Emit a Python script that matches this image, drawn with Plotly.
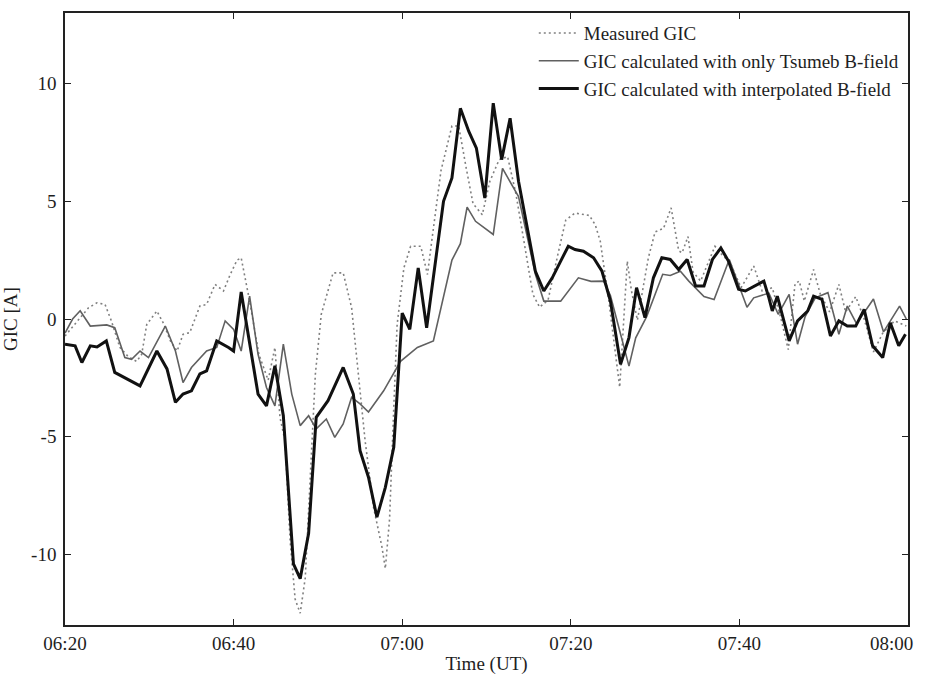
import plotly.graph_objects as go

# time in minutes after 06:20 UT
t_meas = [0, 1.5, 2.8, 3.8, 4.75, 5.5, 6.5, 7.5, 8.5, 9.1, 9.7, 10.9, 11.7, 12.5, 13.3, 14.0, 14.8,
          16.0, 16.8, 17.8, 18.8, 19.6, 20.4, 20.9, 21.9, 23.0, 24.1, 24.9, 25.5, 26.1, 26.7, 27.3,
          27.9, 28.5, 28.9, 29.7, 30.4, 31.8, 33.0, 34.0, 34.8, 35.6, 36.6, 37.6, 38.0, 38.5, 39.0,
          39.4, 40.2, 41.0, 42.2, 43.0, 43.5, 44.6, 45.9, 46.7, 47.6, 48.4, 49.5, 50.4, 51.5, 52.5,
          53.5, 54.6, 55.5, 56.3, 57.3, 58.5, 59.4, 60.5, 62.2, 62.9, 63.5, 64.5, 65.3, 65.8, 66.7,
          67.2, 67.9, 69.2, 70.0, 71.0, 71.9, 72.8, 73.2, 73.9, 74.5, 75.4, 77.1, 77.9, 78.9, 80.2,
          81.7, 82.7, 83.9, 84.9, 85.8, 86.6, 87.1, 87.7, 88.8, 89.6, 90.7, 91.8, 92.6, 93.8, 94.8,
          95.9, 97.0, 98.4, 99.8]
gic_meas = [-0.72, -0.1, 0.48, 0.69, 0.62, -0.08, -1.2, -1.6, -1.8, -1.5, -0.23, 0.34, -0.2, -0.93,
            -1.36, -0.65, -0.58, 0.55, 0.62, 1.47, 1.19, 1.89, 2.5, 2.6, 0.76, -1.5, -2.6, -1.21,
            -4.18, -5.17, -9.4, -11.9, -12.5, -11.0, -8.0, -2.34, 0.2, 1.96, 1.96, 0.48, -2.34,
            -5.17, -8.0, -9.69, -10.6, -8.5, -3.76, -0.23, 2.17, 3.09, 3.09, 1.89, 3.3, 6.3, 8.2,
            8.2, 6.4, 4.9, 4.43, 5.85, 6.77, 6.9, 5.3, 3.02, 1.05, 0.5, 0.8, 2.8, 4.2, 4.5, 4.4,
            4.0, 3.3, 0.8, -1.36, -2.9, 2.46, 1.19, -0.05, 2.6, 3.7, 3.85, 4.72, 2.9, 2.81, 3.5,
            2.0, 1.61, 3.09, 2.74, 2.39, 1.33, 2.25, 1.19, 1.33, 0.06, -1.3, 1.5, 1.61, 0.76, 2.1,
            1.05, 0.3, 1.47, 0.3, 0.95, 0.0, -1.4, -0.6, -0.08, -0.3]

t_tsumeb = [0, 0.9, 1.8, 3.0, 4.95, 5.9, 7.1, 7.9, 8.9, 9.9, 11.9, 13.1, 14.0, 15.0, 16.8, 18.0,
            19.0, 20.0, 20.9, 21.9, 22.9, 23.9, 24.9, 25.9, 26.9, 27.9, 28.9, 29.8, 31.0, 32.0,
            33.0, 34.0, 35.0, 36.0, 37.8, 39.8, 41.8, 43.7, 45.9, 46.9, 47.7, 48.7, 50.8, 51.9,
            53.8, 54.8, 55.8, 56.8, 58.8, 60.9, 62.4, 63.9, 64.7, 65.8, 66.9, 67.7, 69.0, 70.9,
            71.8, 73.0, 74.0, 75.8, 77.0, 78.8, 80.9, 81.7, 83.5, 84.6, 85.9, 86.9, 87.8, 89.0,
            90.5, 91.8, 92.8, 93.9, 95.9, 97.1, 99.0, 99.8]
gic_tsumeb = [-0.6, 0.0, 0.35, -0.3, -0.25, -0.37, -1.64, -1.71, -1.36, -1.64, -0.3, -1.36, -2.7,
              -2.06, -1.36, -1.21, -0.08, -0.44, -1.36, 0.97, -1.5, -2.91, -3.69, -1.07, -3.19,
              -4.53, -4.11, -4.67, -4.25, -5.03, -4.46, -3.33, -3.61, -3.95, -3.05, -1.8, -1.21,
              -0.93, 2.5, 3.2, 4.75, 4.15, 3.59, 6.4, 5.2, 3.6, 1.9, 0.76, 0.76, 1.75, 1.6, 1.61,
              1.0, -0.5, -2.0, -0.8, 0.1, 1.9, 1.85, 2.03, 1.61, 0.95, 0.83, 2.53, 0.5, 0.9, 1.1,
              0.2, 1.05, -1.07, 0.1, 0.9, 1.12, -0.65, 0.55, -0.2, 0.85, -0.55, 0.55, 0.0]

t_interp = [0, 1.2, 2.0, 3.0, 3.8, 4.9, 5.9, 7.3, 8.9, 10.9, 12.1, 13.1, 14.0, 15.0, 16.0, 16.8,
            18.0, 19.4, 20.0, 20.9, 22.9, 23.9, 24.9, 25.9, 27.1, 27.9, 28.9, 29.8, 31.2, 33.0,
            34.2, 35.0, 36.0, 37.0, 38.0, 39.0, 40.0, 40.9, 41.9, 42.9, 44.9, 45.9, 46.9, 47.9,
            48.8, 49.8, 50.8, 51.8, 52.8, 53.8, 54.8, 55.8, 56.8, 57.8, 58.8, 59.7, 60.5, 61.5,
            62.7, 63.7, 64.7, 65.9, 66.9, 67.8, 68.8, 69.8, 70.8, 71.8, 72.8, 73.8, 74.8, 75.8,
            76.8, 77.8, 78.7, 79.9, 80.7, 82.9, 83.5, 83.9, 84.5, 85.1, 85.9, 86.9, 88.1, 88.8,
            89.8, 90.8, 91.8, 92.8, 93.8, 94.8, 95.8, 97.0, 97.9, 98.9, 99.7]
gic_interp = [-1.07, -1.14, -1.85, -1.14, -1.19, -0.93, -2.27, -2.55, -2.84, -1.36, -2.12, -3.54,
              -3.19, -3.05, -2.33, -2.2, -0.93, -1.21, -1.36, 1.15, -3.19, -3.69, -1.99, -4.11,
              -10.4, -11.03, -9.1, -4.18, -3.47, -2.06, -3.19, -5.59, -6.72, -8.42, -7.15, -5.45,
              0.25, -0.44, 2.17, -0.37, 5.0, 5.99, 8.95, 7.97, 7.26, 5.14, 9.17, 6.77, 8.53, 5.85,
              4.01, 2.03, 1.19, 1.75, 2.46, 3.09, 2.95, 2.88, 2.6, 2.03, 0.76, -1.92, -0.79, 1.33,
              0.06, 1.75, 2.6, 2.53, 2.1, 2.53, 1.4, 1.4, 2.53, 3.02, 2.46, 1.26, 1.19, 1.61, 0.9,
              0.34, 0.97, 0.13, -0.93, -0.08, 0.34, 0.97, 0.83, -0.72, -0.08, -0.3, -0.3, 0.41,
              -1.14, -1.64, -0.16, -1.14, -0.65]

x_tick_vals = [0, 20, 40, 60, 80, 100]
x_tick_text = ["06:20", "06:40", "07:00", "07:20", "07:40", "08:00"]
y_tick_vals = [-10, -5, 0, 5, 10]
y_tick_text = ["-10", "-5", "0", "5", "10"]

FONT = "Liberation Serif, Times New Roman, serif"
TXT = "#1e1e1e"

fig = go.Figure()
fig.add_trace(go.Scatter(x=t_meas, y=gic_meas, mode="lines", name="Measured GIC",
                         line=dict(color="#808080", width=1.6, dash="2px,3px")))
fig.add_trace(go.Scatter(x=t_tsumeb, y=gic_tsumeb, mode="lines",
                         name="GIC calculated with only Tsumeb B-field",
                         line=dict(color="#606060", width=1.6)))
fig.add_trace(go.Scatter(x=t_interp, y=gic_interp, mode="lines",
                         name="GIC calculated with interpolated B-field",
                         line=dict(color="#111111", width=3)))

fig.update_layout(
    width=928, height=675,
    margin=dict(l=65, r=20, t=13, b=50),
    paper_bgcolor="white", plot_bgcolor="white",
    font=dict(family=FONT, size=19, color=TXT),
    showlegend=True,
    legend=dict(x=0.995, y=0.998, xanchor="right", yanchor="top",
                bgcolor="rgba(0,0,0,0)", font=dict(size=19, family=FONT, color=TXT),
                tracegroupgap=0, itemwidth=40),
    xaxis=dict(range=[0, 100], tickvals=x_tick_vals,
               ticktext=x_tick_text[:-1] + [""],
               tickfont=dict(size=19), automargin=False,
               ticks="inside", ticklen=6, tickcolor="#222", tickwidth=1.3,
               showline=True, linecolor="#222", linewidth=1.5, mirror="ticks",
               showgrid=False, zeroline=False, ticklabelstandoff=0,
               title=dict(text="Time (UT)", standoff=5, font=dict(size=19))),
    yaxis=dict(range=[-13, 13], tickvals=y_tick_vals, ticktext=y_tick_text,
               tickfont=dict(size=19), automargin=False,
               ticks="inside", ticklen=6, tickcolor="#222", tickwidth=1.3,
               showline=True, linecolor="#222", linewidth=1.5, mirror="ticks",
               showgrid=False, zeroline=False, ticklabelstandoff=3,
               title=dict(text="GIC [A]", standoff=8, font=dict(size=19))),
)
fig.add_annotation(x=x_tick_vals[-1], y=0, xref="x", yref="paper", text=x_tick_text[-1],
                   showarrow=False, xanchor="center", yanchor="top", xshift=-17, yshift=-6,
                   font=dict(family=FONT, size=19, color=TXT))

fig.write_html("out.html")
